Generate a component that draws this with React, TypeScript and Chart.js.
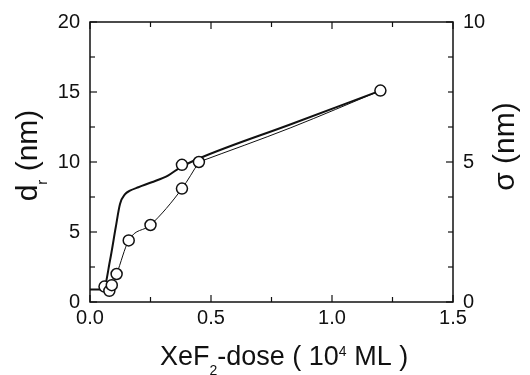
import { useEffect, useRef } from "react";
import { Chart, registerables } from "chart.js";
Chart.register(...registerables);

// Measured circles (d_r, nm) vs XeF2 dose (10^4 ML)
const circleX = [0.06, 0.08, 0.09, 0.11, 0.16, 0.25, 0.38, 0.38, 0.45, 1.2];
const circleY = [1.1, 0.8, 1.2, 2.0, 4.4, 5.5, 8.1, 9.8, 10.0, 15.1];
// Thin guide line through the circles (curved part, then the long tail)
const thinX = [0.09, 0.11, 0.16, 0.25, 0.38, 0.45];
const thinY = [1.2, 2.0, 4.4, 5.5, 8.1, 10.0];
const thinTailX = [0.45, 0.83, 1.2];
const thinTailY = [10.0, 12.45, 15.1];
// Thick curve
const thickX = [0, 0.055, 0.083, 0.106, 0.124, 0.145, 0.165, 0.2, 0.255, 0.324, 0.372, 0.45, 0.83, 1.2];
const thickY = [0.9, 0.9, 3.0, 5.3, 7.0, 7.7, 7.95, 8.2, 8.55, 9.05, 9.6, 10.25, 12.7, 15.1];

const xRange = [0, 1.5];
const yRange = [0, 20];
const y2Range = [0, 10];
const xStep = 0.25;
const xMajor = 0.5;
const yStep = 2.5;
const yMajor = 5;
const y2Step = 1.25;
const y2Major = 5;

const FONT = "'Liberation Sans', Arial, sans-serif";
const INK = "#111";

const isMult = (v: number, m: number) => Math.abs(v / m - Math.round(v / m)) < 1e-6;

type Seg = { t: string; s: number; dy: number };
function drawSegs(ctx: CanvasRenderingContext2D, segs: Seg[], x: number, y: number, align: "start" | "center") {
  let w = 0;
  segs.forEach((g) => {
    ctx.font = `${g.s}px ${FONT}`;
    w += ctx.measureText(g.t).width;
  });
  let cx = align === "center" ? x - w / 2 : x;
  segs.forEach((g) => {
    ctx.font = `${g.s}px ${FONT}`;
    ctx.fillText(g.t, cx, y + g.dy);
    cx += ctx.measureText(g.t).width;
  });
}

const framePlugin = {
  id: "frameTicksTitles",
  afterDraw(chart: any) {
    const { ctx, chartArea: a, scales } = chart;
    ctx.save();
    ctx.strokeStyle = INK;
    ctx.lineWidth = 1.5;
    ctx.strokeRect(a.left, a.top, a.right - a.left, a.bottom - a.top);
    ctx.lineWidth = 1.2;
    const seg = (x1: number, y1: number, x2: number, y2: number) => {
      ctx.beginPath();
      ctx.moveTo(x1, y1);
      ctx.lineTo(x2, y2);
      ctx.stroke();
    };
    const xs = scales.x;
    xs.ticks.forEach((t: any) => {
      const p = xs.getPixelForValue(t.value);
      const L = isMult(t.value, xMajor) ? 7 : 5;
      seg(p, a.bottom, p, a.bottom - L);
      seg(p, a.top, p, a.top + L);
    });
    const ys = scales.y;
    ys.ticks.forEach((t: any) => {
      const p = ys.getPixelForValue(t.value);
      const L = isMult(t.value, yMajor) ? 7 : 5;
      seg(a.left, p, a.left + L, p);
    });
    const y2 = scales.y2;
    y2.ticks.forEach((t: any) => {
      const p = y2.getPixelForValue(t.value);
      const L = isMult(t.value, y2Major) ? 7 : 5;
      seg(a.right, p, a.right - L, p);
    });

    // Titles
    ctx.fillStyle = INK;
    ctx.textBaseline = "alphabetic";
    ctx.textAlign = "left";
    drawSegs(
      ctx,
      [
        { t: "XeF", s: 27, dy: 0 },
        { t: "2", s: 14, dy: 10 },
        { t: "-dose ( 10", s: 27, dy: 0 },
        { t: "4", s: 14, dy: -9 },
        { t: " ML )", s: 27, dy: 0 },
      ],
      160,
      365,
      "start"
    );
    ctx.save();
    ctx.translate(37, 155.5);
    ctx.rotate(-Math.PI / 2);
    drawSegs(
      ctx,
      [
        { t: "d", s: 30, dy: 0 },
        { t: "r", s: 15, dy: 10 },
        { t: " (nm)", s: 30, dy: 0 },
      ],
      0,
      0,
      "center"
    );
    ctx.restore();
    ctx.save();
    ctx.translate(514, 146.5);
    ctx.rotate(-Math.PI / 2);
    drawSegs(ctx, [{ t: "σ (nm)", s: 30, dy: 0 }], 0, 0, "center");
    ctx.restore();
    ctx.restore();
  },
};

export default function App() {
  const ref = useRef<HTMLCanvasElement>(null);
  useEffect(() => {
    const toPts = (xs: number[], ys: number[]) => xs.map((x, i) => ({ x, y: ys[i] }));
    const lineDs = (label: string, xs: number[], ys: number[], w: number, order: number) => ({
      label,
      data: toPts(xs, ys),
      showLine: true,
      borderColor: INK,
      borderWidth: w,
      pointRadius: 0,
      cubicInterpolationMode: "monotone",
      order,
    });
    const chart = new Chart(ref.current!, {
      type: "scatter",
      data: {
        datasets: [
          {
            label: "d_r",
            data: toPts(circleX, circleY),
            showLine: false,
            pointRadius: 5.5,
            pointBorderWidth: 1.5,
            pointBorderColor: INK,
            pointBackgroundColor: "#fff",
            order: 0,
          },
          lineDs("thin", thinX, thinY, 1, 1),
          lineDs("thinTail", thinTailX, thinTailY, 1, 1),
          lineDs("thick", thickX, thickY, 2, 2),
        ],
      },
      options: {
        animation: false,
        responsive: true,
        maintainAspectRatio: false,
        layout: { padding: { top: 20, left: 0, right: 0, bottom: 0 } },
        plugins: { legend: { display: false }, tooltip: { enabled: false } },
        scales: {
          x: {
            type: "linear",
            min: xRange[0],
            max: xRange[1],
            grid: { display: false, drawTicks: false },
            border: { display: false },
            ticks: {
              stepSize: xStep,
              autoSkip: false,
              maxRotation: 0,
              padding: 4,
              color: INK,
              font: { family: FONT, size: 20 },
              callback: (v: any) => (isMult(Number(v), xMajor) ? Number(v).toFixed(1) : ""),
            },
            afterFit: (s: any) => {
              s.height = 73;
            },
          },
          y: {
            type: "linear",
            position: "left",
            min: yRange[0],
            max: yRange[1],
            grid: { display: false, drawTicks: false },
            border: { display: false },
            ticks: {
              stepSize: yStep,
              autoSkip: false,
              padding: 10,
              color: INK,
              font: { family: FONT, size: 20 },
              callback: (v: any) => (isMult(Number(v), yMajor) ? String(v) : ""),
            },
            afterFit: (s: any) => {
              s.width = 90;
            },
          },
          y2: {
            type: "linear",
            position: "right",
            min: y2Range[0],
            max: y2Range[1],
            grid: { display: false, drawTicks: false },
            border: { display: false },
            ticks: {
              stepSize: y2Step,
              autoSkip: false,
              padding: 10,
              color: INK,
              font: { family: FONT, size: 20 },
              callback: (v: any) => (isMult(Number(v), y2Major) ? String(v) : ""),
            },
            afterFit: (s: any) => {
              s.width = 77;
            },
          },
        },
      },
      plugins: [framePlugin],
    } as any);
    return () => chart.destroy();
  }, []);
  return (
    <div style={{ position: "fixed", left: 0, top: 0, width: 530, height: 375, background: "#fff" }}>
      <canvas ref={ref} />
    </div>
  );
}
